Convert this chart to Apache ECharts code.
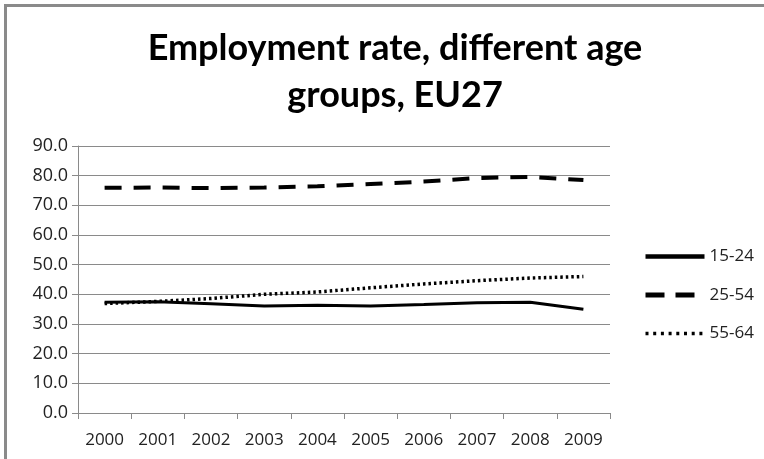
<!DOCTYPE html>
<html>
<head>
<meta charset="utf-8">
<script src="https://cdn.jsdelivr.net/npm/echarts@6/dist/echarts.min.js"></script>
<style>
  html, body { margin: 0; padding: 0; background: #fff; }
  #frame {
    position: absolute; left: 4px; top: 4px;
    width: 800px; height: 500px;
    border: 3px solid #8a8a8a;
  }
  #chart { position: absolute; left: 0; top: 0; width: 764px; height: 459px; }
</style>
</head>
<body>
<div id="frame"></div>
<div id="chart"></div>
<script>
// 年份
const years = ['2000', '2001', '2002', '2003', '2004', '2005', '2006', '2007', '2008', '2009']
// 各年龄组就业率
const age15to24 = [37.3, 37.5, 36.8, 36.1, 36.3, 36.1, 36.6, 37.2, 37.3, 35.0]
const age25to54 = [75.9, 76.0, 75.8, 76.0, 76.4, 77.2, 78.0, 79.2, 79.6, 78.5]
const age55to64 = [36.9, 37.6, 38.6, 40.0, 40.8, 42.2, 43.5, 44.6, 45.5, 46.0]
// y轴刻度
const yTicks = { min: 0, max: 90, interval: 10 }

const font = 'Open Sans'
const chart = echarts.init(document.getElementById('chart'), null, { renderer: 'canvas' })

const option = {
  animation: false,
  title: {
    text: 'Employment rate, different age\ngroups, EU27',
    left: 390,
    top: 20,
    textAlign: 'center',
    textStyle: {
      fontFamily: 'Lato',
      fontWeight: 'bold',
      fontSize: 36,
      lineHeight: 47,
      color: '#000'
    }
  },
  legend: {
    orient: 'vertical',
    left: 643,
    top: 248,
    padding: 0,
    itemWidth: 59,
    itemHeight: 16,
    itemGap: 21.5,
    // 图例线型单独放大
    data: [
      { name: '15-24', lineStyle: { width: 4.5, type: 'solid' } },
      { name: '25-54', lineStyle: { width: 5, type: [19, 11] } },
      { name: '55-64', lineStyle: { width: 3.5, type: [3, 4.7], cap: 'butt' } }
    ],
    // 隐藏图例中的圆点
    itemStyle: { color: 'transparent', borderWidth: 0, opacity: 0 },
    textStyle: { fontFamily: font, fontSize: 17, color: '#222' }
  },
  grid: {
    left: 78,
    right: 154,
    top: 146,
    bottom: 46,
    containLabel: false
  },
  xAxis: {
    type: 'category',
    data: years,
    boundaryGap: true,
    axisLine: { lineStyle: { color: '#8a8a8a', width: 1 } },
    axisTick: { show: true, length: 6, interval: 0, lineStyle: { color: '#8a8a8a' } },
    axisLabel: { fontFamily: font, fontSize: 17, color: '#222', margin: 19, interval: 0, hideOverlap: false }
  },
  yAxis: {
    type: 'value',
    min: yTicks.min,
    max: yTicks.max,
    interval: yTicks.interval,
    axisLine: { show: true, lineStyle: { color: '#8a8a8a', width: 1 } },
    axisTick: { show: true, length: 6, lineStyle: { color: '#8a8a8a' } },
    axisLabel: {
      fontFamily: font, fontSize: 18, color: '#222', margin: 10,
      formatter: v => v.toFixed(1)
    },
    splitLine: { lineStyle: { color: '#8a8a8a', width: 1 } }
  },
  series: [
    {
      name: '15-24', type: 'line', data: age15to24,
      symbol: 'none', color: '#000',
      lineStyle: { color: '#000', width: 3, type: 'solid' }
    },
    {
      name: '25-54', type: 'line', data: age25to54,
      symbol: 'none', color: '#000',
      lineStyle: { color: '#000', width: 4, type: [17, 12] }
    },
    {
      name: '55-64', type: 'line', data: age55to64,
      symbol: 'none', color: '#000',
      lineStyle: { color: '#000', width: 3.5, type: [2.5, 3], cap: 'butt' }
    }
  ]
}
chart.setOption(option)
window.addEventListener('resize', chart.resize)
</script>
</body>
</html>
